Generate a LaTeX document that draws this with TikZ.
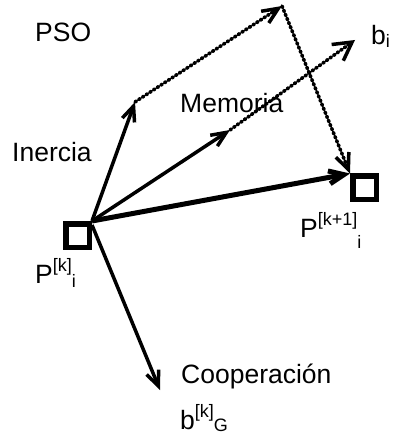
\documentclass[tikz,border=0pt]{standalone}
\usepackage{fontspec}
\setmainfont{Liberation Sans}
\usetikzlibrary{arrows.meta}
\newcommand{\supx}[1]{\raisebox{0.45em}{\fontsize{18}{18}\selectfont #1}}
\newcommand{\subx}[2][-0.2em]{\raisebox{#1}{\fontsize{18}{18}\selectfont #2}}

\begin{document}
\begin{tikzpicture}[x=1pt,y=-1pt,
    every node/.style={font=\fontsize{26.5}{30}\selectfont},
    lbl/.style={anchor=base west,inner sep=0pt},
    partbox/.style={draw,line width=5.5pt,minimum size=23.5pt,inner sep=0pt},
    vec/.style={line width=3.5pt,-{Straight Barb[length=15pt,width=13pt]}},
    dotvec/.style={line width=3.5pt,line cap=round,dash pattern=on 1.8pt off 2.6pt,
      -{Straight Barb[length=16pt,width=14pt]}}]
  \useasboundingbox (0,0) rectangle (393,435);
  % particle positions
  \node[partbox] (pk) at (77.5,235.5) {};
  \node[partbox] (pk1) at (364.5,188) {};
  \coordinate (in) at (135,102);
  \coordinate (top) at (282,6);
  \coordinate (mem) at (230,130);
  \coordinate (bi) at (355,40);
  \coordinate (coop) at (160,390);
  % labels
  \node[lbl] (pso) at (35,42) {PSO};
  \node[lbl] (ine) at (12,162) {Inercia};
  \node[lbl] (memo) at (180,113) {Memoria};
  \node[lbl] (coo) at (181,383) {Cooperación};
  \node[lbl] (bgl) at (180,429) {b\supx{[k]}\subx[-0.1em]{G}};
  \node[lbl] (pk1l) at (300,237) {P\supx{[k+1]}\subx[-0.42em]{i}};
  \node[lbl] (pkl) at (35,283) {P\supx{[k]}\subx[-0.16em]{i}};
  \node[lbl] (bil) at (371,45) {b\subx[-0.1em]{i}};
  % vectors
  \draw[vec] (pk.north east) -- (in);
  \draw[dotvec] (in) -- (top);
  \draw[dotvec] (top) -- (pk1.north west);
  \draw[vec] (pk.north east) -- (mem);
  \draw[dotvec,-{Straight Barb[length=18pt,width=20pt]}] (mem) -- (bi);
  \draw[vec,line width=5pt] (pk.north east) -- (pk1.north west);
  \draw[vec] ([yshift=-4pt]pk.north east) -- (coop);
\end{tikzpicture}
\end{document}
